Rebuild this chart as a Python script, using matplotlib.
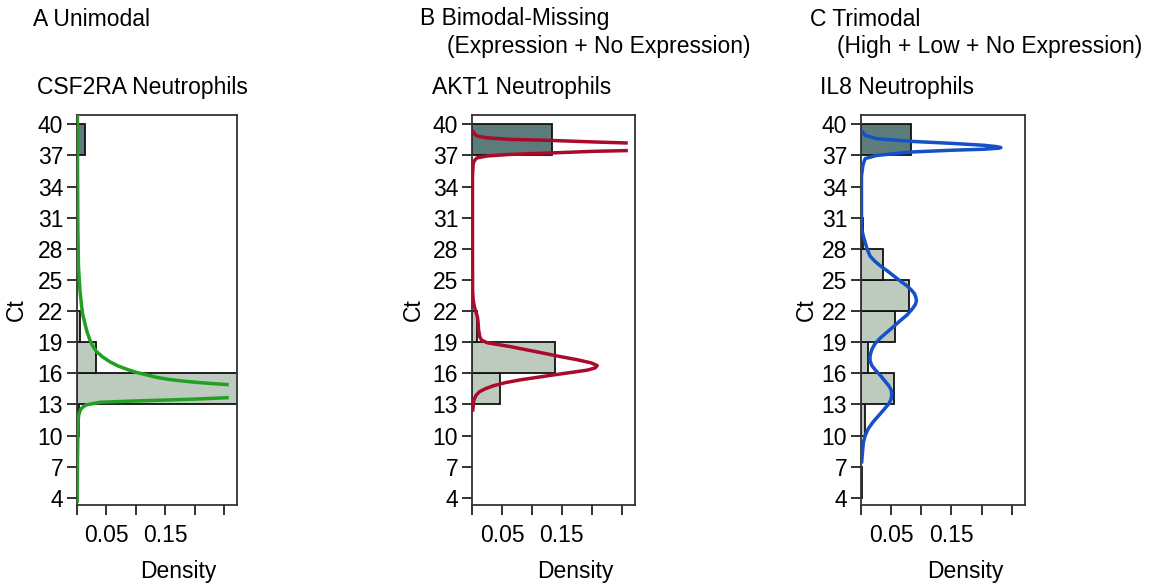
import numpy as np
import matplotlib
matplotlib.use('Agg')
import matplotlib.pyplot as plt

plt.rcParams['font.family'] = ['Liberation Sans', 'DejaVu Sans']

# --- DATA ---
bin_starts = [4, 7, 10, 13, 16, 19, 22, 25, 28, 31, 34, 37]
bin_width = 3
no_expr_bin = 37   # last bin = no expression (dark bar)

dens_a = [0, 0, 0.004, 0.30, 0.033, 0.005, 0, 0, 0, 0, 0, 0.014]
dens_b = [0, 0, 0, 0.047, 0.139, 0.008, 0, 0, 0, 0, 0, 0.134]
dens_c = [0.002, 0, 0.007, 0.054, 0.012, 0.057, 0.079, 0.037, 0.003, 0, 0, 0.083]

nan = np.nan
curve_a_ct = [3.5, 6, 8, 10, 11.5, 12.0, 12.5, 12.75, 12.96, 13.2, 13.3, 13.4, 13.5, 13.65,
              nan,
              14.9, 15.0, 15.1, 15.25, 15.4, 15.6, 15.85, 16.1, 16.4, 16.7, 17.1, 17.6,
              18.1, 18.6, 19.2, 20.0, 20.8, 21.6, 22.4, 24.0, 26.3, 30, 35, 40.9]
curve_a_dens = [0.0005, 0.0007, 0.001, 0.0015, 0.002, 0.003, 0.006, 0.010, 0.016, 0.039,
                0.084, 0.140, 0.196, 0.258,
                nan,
                0.258, 0.232, 0.208, 0.180, 0.157, 0.136, 0.118, 0.100, 0.084, 0.070,
                0.056, 0.043, 0.033, 0.027, 0.022, 0.017, 0.0135, 0.010, 0.008, 0.005,
                0.0025, 0.0015, 0.001, 0.0008]

curve_b_ct = [12.3, 13.4, 13.9, 14.24, 14.5, 14.8, 15.1, 15.36, 15.6, 15.84, 16.1, 16.3,
              16.5, 16.74, 17.0, 17.3, 17.6, 17.93, 18.25, 18.57, 18.8, 18.95, 19.2, 19.5,
              20.2, 21.0, 21.45, 22.0, 22.4, 23.06, 24, 30, 35, 36.2, 36.5, 36.76, 36.95,
              37.1, 37.24, 37.4, 37.47,
              nan,
              38.2, 38.3, 38.45, 38.55, 38.7, 38.85, 39.0, 39.4]
curve_b_dens = [0.001, 0.003, 0.007, 0.013, 0.022, 0.036, 0.056, 0.080, 0.108, 0.136, 0.168,
                0.192, 0.205, 0.209, 0.199, 0.176, 0.148, 0.120, 0.092, 0.064, 0.040, 0.025,
                0.016, 0.013, 0.011, 0.010, 0.009, 0.006, 0.004, 0.002, 0.001, 0.0008,
                0.0008, 0.002, 0.004, 0.008, 0.025, 0.064, 0.131, 0.204, 0.26,
                nan,
                0.26, 0.204, 0.131, 0.064, 0.025, 0.010, 0.005, 0.001]

curve_c_ct = [7.3, 8.1, 9.36, 10.0, 10.65, 11.3, 11.9, 12.5, 13.05, 13.5, 14.0, 14.4, 14.8,
              15.3, 15.8, 16.3, 16.74, 17.2, 17.7, 18.3, 18.83, 19.4, 19.95, 20.5, 21.07,
              21.6, 22.2, 22.6, 23.0, 23.3, 23.64, 24.0, 24.44, 24.9, 25.4, 25.9, 26.36,
              26.8, 27.3, 28.0, 28.6, 29.2, 29.9, 32, 35, 36.0, 36.4, 36.7, 37.0, 37.33,
              37.5, 37.6, 37.7, 37.76, 37.85, 37.98, 38.17, 38.36, 38.62, 38.94, 39.36]
curve_c_dens = [0.001, 0.002, 0.004, 0.007, 0.012, 0.020, 0.029, 0.038, 0.046, 0.050, 0.051,
                0.050, 0.046, 0.039, 0.032, 0.024, 0.018, 0.015, 0.015, 0.018, 0.023, 0.032,
                0.043, 0.054, 0.065, 0.076, 0.085, 0.090, 0.092, 0.091, 0.089, 0.084, 0.076,
                0.065, 0.054, 0.043, 0.032, 0.023, 0.015, 0.010, 0.007, 0.004, 0.001,
                0.0008, 0.0008, 0.003, 0.005, 0.007, 0.026, 0.082, 0.149, 0.204, 0.228,
                0.232, 0.225, 0.204, 0.149, 0.082, 0.026, 0.007, 0.001]

panel_titles = ['A Unimodal', 'B Bimodal-Missing', 'C Trimodal']
panel_subtitles = ['', '(Expression + No Expression)', '(High + Low + No Expression)']
panel_genes = ['CSF2RA Neutrophils', 'AKT1 Neutrophils', 'IL8 Neutrophils']
y_ticks = [4, 7, 10, 13, 16, 19, 22, 25, 28, 31, 34, 37, 40]
x_ticks = [0, 0.05, 0.10, 0.15, 0.20, 0.25]
x_ticklabels = ['', '0.05', '', '0.15', '', '']

LIGHT = '#bccbbd'
DARK = '#5c7b7b'
line_colors = ['#22a022', '#aa0a2c', '#1450c8']

# --- FIGURE ---
W, H = 1152, 584
fig = plt.figure(figsize=(W / 100, H / 100), dpi=100)

# pixel boxes (left, right) of each axes
ax_lr = [(77, 237), (472, 635), (861, 1025)]
top_px, bot_px = 115, 505
title_x = [33, 420, 810]
sub_x = [60, 447, 837]
gene_x = [37, 432, 820]
ct_x = [16, 413, 806]

panels = [(dens_a, curve_a_ct, curve_a_dens),
          (dens_b, curve_b_ct, curve_b_dens),
          (dens_c, curve_c_ct, curve_c_dens)]

for i, (dens, cct, cdens) in enumerate(panels):
    l, r = ax_lr[i]
    ax = fig.add_axes([l / W, 1 - bot_px / H, (r - l) / W, (bot_px - top_px) / H])

    for start, d in zip(bin_starts, dens):
        if d <= 0:
            continue
        col = DARK if start == no_expr_bin else LIGHT
        ax.barh(start, d, height=bin_width, align='edge', color=col,
                edgecolor='#111111', linewidth=1.3, zorder=2)

    ax.plot(cdens, cct, color=line_colors[i], lw=2.5, zorder=3,
            solid_capstyle='butt')

    ax.set_xlim(0, 0.272)
    ax.set_ylim(3.3, 40.9)
    ax.set_yticks(y_ticks)
    ax.set_xticks(x_ticks)
    ax.set_xticklabels(x_ticklabels)
    ax.tick_params(axis='both', direction='out', length=7, width=1.3,
                   color='#222222', labelsize=16.5)
    ax.tick_params(axis='y', pad=3)
    ax.tick_params(axis='x', pad=7)
    for sp in ax.spines.values():
        sp.set_color('#333333')
        sp.set_linewidth(1.3)

    ax.set_ylabel('Ct', fontsize=16.5)
    ax.yaxis.set_label_coords((ct_x[i] - l) / (r - l), 0.5)
    ax.set_xlabel('Density', fontsize=16.5)
    ax.xaxis.set_label_coords(0.635, -0.17)
    ax.xaxis.label.set_va('center')
    ax.yaxis.label.set_va('center')

    fig.text(title_x[i] / W, 1 - 19 / H, panel_titles[i], fontsize=16.5, va='center', ha='left')
    if panel_subtitles[i]:
        fig.text(sub_x[i] / W, 1 - 46 / H, panel_subtitles[i], fontsize=16.5,
                 va='center', ha='left')
    fig.text(gene_x[i] / W, 1 - 88 / H, panel_genes[i], fontsize=16.5, va='center', ha='left')

fig.savefig('out.png', dpi=100, facecolor='white')
